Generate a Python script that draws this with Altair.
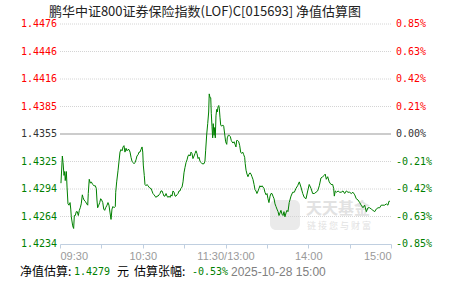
import altair as alt
import pandas as pd

# ---- data ----
t_min = [0.7,1.7,2.2,2.9,3.4,3.8,4.6,5.1,5.8,6.5,
         7.3,7.8,8.2,9.2,9.9,10.4,11.1,11.8,12.5,13.3,
         14.0,14.7,15.4,16.2,16.7,17.4,18.3,19.4,20.1,20.5,
         21.2,22.0,22.7,23.7,24.7,25.6,26.3,26.8,27.3,28.1,
         28.8,29.5,30.2,31.0,31.7,32.4,33.1,34.1,34.8,35.5,
         36.3,37.0,37.7,38.4,39.2,40.1,40.4,41.1,42.1,42.8,
         43.5,44.2,45.0,45.7,46.4,47.1,47.9,48.6,49.3,50.0,
         50.8,51.5,52.2,52.9,53.7,54.4,55.1,55.8,56.6,57.3,
         58.0,58.7,59.5,60.0,60.4,61.1,61.6,62.4,63.1,63.8,
         64.5,65.3,66.0,66.7,67.4,68.2,68.9,69.6,70.3,71.1,
         71.8,72.5,73.2,74.0,74.7,75.4,76.1,76.9,77.6,78.3,
         79.0,79.8,80.5,81.2,81.9,82.7,83.4,84.1,84.8,85.6,
         86.3,87.0,87.7,88.5,89.2,89.9,90.6,91.4,92.1,92.8,
         93.5,94.3,95.0,95.7,96.4,97.2,97.9,98.6,99.3,100.1,
         100.8,101.5,102.2,103.0,103.7,104.4,105.1,105.6,106.4,107.1,
         107.8,108.2,108.8,109.3,109.7,110.2,110.7,111.1,111.7,112.2,
         112.6,113.1,113.6,114.0,114.6,115.1,115.5,116.0,116.5,117.2,
         118.0,118.7,119.4,120.1,120.9,121.3,122.0,122.7,123.5,124.2,
         124.7,125.4,126.2,126.9,127.6,128.1,128.8,129.6,130.3,131.0,
         131.7,132.5,133.2,133.9,134.3,134.9,135.6,136.3,137.0,137.8,
         138.5,139.2,139.9,140.7,141.4,142.1,142.8,143.6,144.3,145.0,
         145.7,146.5,147.2,147.9,148.6,149.4,150.1,150.8,151.5,152.3,
         153.0,153.7,154.4,155.2,155.9,156.6,157.3,158.1,158.8,159.5,
         160.2,161.0,161.7,162.4,163.1,163.9,164.6,165.3,166.2,167.5,
         168.7,169.9,171.1,172.3,173.5,174.7,176.0,177.1,178.4,179.6,
         180.7,182.0,183.2,184.4,185.6,186.8,188.0,189.2,190.5,191.6,
         192.3,193.1,194.1,195.2,196.5,197.7,198.4,198.9,199.6,200.6,
         201.6,202.8,203.9,205.2,206.4,207.6,208.8,210.0,211.2,212.4,
         213.7,214.8,216.1,217.3,218.4,219.7,220.9,222.1,223.3,224.5,
         225.7,226.9,228.2,229.3,230.6,231.8,232.9,234.2,235.4,236.6,
         237.8,238.5,239.2]

pct_chg = [-0.38,-0.17,-0.22,-0.32,-0.29,-0.36,-0.29,-0.41,-0.54,-0.55,
           -0.53,-0.58,-0.64,-0.71,-0.73,-0.63,-0.63,-0.60,-0.60,-0.63,
           -0.59,-0.57,-0.54,-0.47,-0.49,-0.51,-0.52,-0.54,-0.55,-0.46,
           -0.35,-0.38,-0.37,-0.39,-0.40,-0.40,-0.42,-0.51,-0.57,-0.55,
           -0.53,-0.50,-0.51,-0.53,-0.58,-0.59,-0.57,-0.55,-0.53,-0.55,
           -0.61,-0.66,-0.58,-0.56,-0.57,-0.56,-0.45,-0.37,-0.28,-0.21,
           -0.14,-0.12,-0.13,-0.10,-0.09,-0.14,-0.11,-0.13,-0.12,-0.12,
           -0.14,-0.18,-0.21,-0.22,-0.23,-0.22,-0.20,-0.17,-0.16,-0.14,
           -0.14,-0.12,-0.10,-0.14,-0.24,-0.32,-0.39,-0.40,-0.39,-0.40,
           -0.41,-0.42,-0.42,-0.44,-0.46,-0.47,-0.48,-0.49,-0.48,-0.48,
           -0.47,-0.46,-0.44,-0.44,-0.46,-0.48,-0.48,-0.46,-0.48,-0.49,
           -0.48,-0.49,-0.47,-0.48,-0.44,-0.45,-0.48,-0.48,-0.47,-0.46,
           -0.44,-0.44,-0.42,-0.41,-0.37,-0.30,-0.26,-0.22,-0.20,-0.17,
           -0.16,-0.17,-0.14,-0.15,-0.19,-0.17,-0.15,-0.13,-0.15,-0.19,
           -0.18,-0.21,-0.22,-0.23,-0.23,-0.23,-0.21,-0.13,0.00,0.08,
           0.17,0.31,0.28,0.28,0.16,0.06,-0.03,0.08,-0.01,0.05,
           -0.03,0.14,0.19,0.17,0.21,0.22,0.20,0.13,0.07,0.06,
           0.07,0.06,0.00,-0.06,-0.08,-0.03,-0.01,-0.01,-0.02,-0.05,
           -0.06,-0.07,-0.06,-0.08,-0.10,-0.05,-0.05,-0.06,-0.09,-0.14,
           -0.15,-0.14,-0.16,-0.18,-0.23,-0.28,-0.31,-0.33,-0.31,-0.30,
           -0.31,-0.33,-0.35,-0.39,-0.43,-0.44,-0.46,-0.44,-0.42,-0.40,
           -0.41,-0.40,-0.41,-0.42,-0.45,-0.47,-0.46,-0.50,-0.53,-0.48,
           -0.46,-0.46,-0.48,-0.50,-0.54,-0.56,-0.58,-0.60,-0.63,-0.61,
           -0.59,-0.62,-0.63,-0.60,-0.64,-0.61,-0.59,-0.60,-0.53,-0.48,
           -0.45,-0.45,-0.42,-0.40,-0.37,-0.41,-0.46,-0.49,-0.50,-0.44,
           -0.39,-0.42,-0.46,-0.46,-0.45,-0.44,-0.40,-0.34,-0.33,-0.32,
           -0.31,-0.35,-0.33,-0.37,-0.39,-0.39,-0.42,-0.48,-0.44,-0.45,
           -0.44,-0.45,-0.45,-0.44,-0.46,-0.44,-0.45,-0.45,-0.46,-0.45,
           -0.47,-0.50,-0.51,-0.53,-0.55,-0.57,-0.55,-0.60,-0.57,-0.57,
           -0.58,-0.59,-0.60,-0.58,-0.57,-0.57,-0.55,-0.55,-0.55,-0.54,
           -0.55,-0.52,-0.52]

y_tick_pos = [0.85, 0.6375, 0.425, 0.2125, 0.0, -0.2125, -0.425, -0.6375, -0.85]
nav_labels = ["1.4476", "1.4446", "1.4416", "1.4385", "1.4355",
              "1.4325", "1.4294", "1.4264", "1.4234"]
pct_labels = ["0.85%", "0.63%", "0.42%", "0.21%", "0.00%",
              "-0.21%", "-0.42%", "-0.63%", "-0.85%"]

x_tick_vals = [0, 30, 60, 90, 120, 150, 180, 210, 240]
x_label_vals = [0, 60, 120, 180, 240]
x_label_text = ["09:30", "10:30", "11:30/13:00", "14:00", "15:00"]

title_text = "鹏华中证800证券保险指数(LOF)C[015693] 净值估算图"
est_nav = "1.4279"
est_chg = "-0.53%"
est_time = "2025-10-28 15:00"

# ---- tables ----
W, H = 331, 220
line_df = pd.DataFrame({"t": t_min, "p": pct_chg})
ticks_df = pd.DataFrame({"p": y_tick_pos, "nav": nav_labels, "pl": pct_labels})
ticks_df["col"] = ["#ff0000" if v > 0 else ("#008000" if v < 0 else "#333333")
                   for v in y_tick_pos]
grid_df = ticks_df[(ticks_df.p != 0) & (ticks_df.p > -0.8)]
zero_df = ticks_df[ticks_df.p == 0]

label_expr = " : ".join(
    f"datum.value == {v} ? '{s}'" for v, s in zip(x_label_vals, x_label_text)
) + " : ''"

yscale = alt.Scale(domain=[-0.85, 0.85], nice=False, zero=False)
xscale = alt.Scale(domain=[0, 240], nice=False, zero=False)

MONO = "DejaVu Sans Mono"
CJK = "Noto Sans CJK SC"

grid = alt.Chart(grid_df).mark_rule(color="#d4d4d4", strokeDash=[1, 1], strokeWidth=1).encode(
    y=alt.Y("p:Q", scale=yscale, axis=None),
    x=alt.value(0), x2=alt.value(W),
)
zero = alt.Chart(zero_df).mark_rule(color="#999999", strokeWidth=1).encode(
    y=alt.Y("p:Q", scale=yscale, axis=None),
    x=alt.value(0), x2=alt.value(W),
)

# watermark
wm_box = alt.Chart(pd.DataFrame({"a": [0]})).mark_rect(
    color="#e8e8e8", cornerRadius=6, opacity=0.9
).encode(x=alt.value(210), x2=alt.value(240), y=alt.value(176), y2=alt.value(206))
wm_txt = alt.Chart(pd.DataFrame({"s": ["天天基金"]})).mark_text(
    font=CJK, fontSize=16, fontWeight="bold", color="#e2e2e2", align="left", baseline="middle"
).encode(x=alt.value(246), y=alt.value(185), text="s:N")
wm_sub = alt.Chart(pd.DataFrame({"s": ["链 接 您 与 财 富"]})).mark_text(
    font=CJK, fontSize=9, color="#e2e2e2", align="left", baseline="middle"
).encode(x=alt.value(247), y=alt.value(202), text="s:N")

line = alt.Chart(line_df).mark_line(color="#008000", strokeWidth=1, interpolate="linear").encode(
    x=alt.X("t:Q", scale=xscale, title=None,
            axis=alt.Axis(values=x_tick_vals, labelExpr=label_expr, labelFlush=True,
                          grid=False, domainColor="#c0cfe0", tickColor="#c0cfe0",
                          tickSize=4, labelColor="#9a9a9a", labelFont="Liberation Sans",
                          labelFontSize=11, labelPadding=2, labelOverlap=False)),
    y=alt.Y("p:Q", scale=yscale, axis=None),
)

left_lbl = alt.Chart(ticks_df).mark_text(font=MONO, fontSize=10, align="right", baseline="middle").encode(
    y=alt.Y("p:Q", scale=yscale, axis=None),
    x=alt.value(-3),
    text="nav:N",
    color=alt.Color("col:N", scale=None),
)
right_lbl = alt.Chart(ticks_df).mark_text(font=MONO, fontSize=10, align="left", baseline="middle").encode(
    y=alt.Y("p:Q", scale=yscale, axis=None),
    x=alt.value(W + 5),
    text="pl:N",
    color=alt.Color("col:N", scale=None),
)

title = alt.Chart(pd.DataFrame({"s": [title_text]})).mark_text(
    font=CJK, fontSize=13, color="#222222", align="center", baseline="middle"
).encode(x=alt.value(145), y=alt.value(-12), text="s:N")

footer_df = pd.DataFrame({
    "s": ["净值估算:", est_nav, "元", "估算张幅:", est_chg, est_time],
    "x": [-40, 14, 57, 74, 132, 171],
    "c": ["#000000", "#008000", "#000000", "#000000", "#008000", "#808080"],
    "f": [CJK, MONO, CJK, CJK, MONO, "Liberation Sans"],
})
footers = []
for i, r in footer_df.iterrows():
    footers.append(
        alt.Chart(pd.DataFrame({"s": [r.s]})).mark_text(
            font=r.f, fontSize=12 if r.f != MONO else 10, color=r.c,
            align="left", baseline="middle"
        ).encode(x=alt.value(int(r.x)), y=alt.value(248), text="s:N")
    )

chart = alt.layer(
    wm_box, wm_txt, wm_sub, grid, zero, line, left_lbl, right_lbl, title, *footers
).properties(
    width=W, height=H,
    autosize=alt.AutoSizeParams(type="none"),
    padding={"left": 60, "top": 24, "right": 60, "bottom": 37},
    background="white",
).configure_view(stroke=None)

chart.save("out.html", embed_options={"renderer": "svg", "actions": False})
